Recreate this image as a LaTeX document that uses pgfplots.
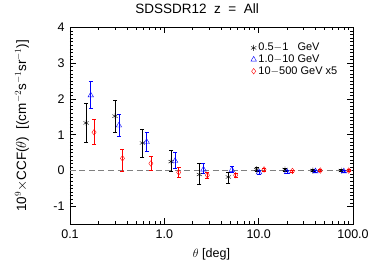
\documentclass[border=0pt]{standalone}
\usepackage{fontspec}
\setmainfont{Liberation Sans}
\usepackage{pgfplots}
\pgfplotsset{compat=1.18}
\begin{document}
\begin{tikzpicture}[x=1pt,y=1pt]
\begin{axis}[
  at={(0,0)}, anchor=south west,
  scale only axis, width=283pt, height=197pt,
  xmode=log, xmin=0.1, xmax=100,
  ymin=-1.5, ymax=4,
  xtick={0.1,1,10,100}, xticklabels={0.1,1.0,10.0,100.0},
  ytick={-1,0,1,2,3,4},
  minor y tick num=9,
  /pgf/number format/assume math mode=true,
  tick style={black, line width=0.5pt},
  major tick length=6pt, minor tick length=3pt,
  axis line style={line width=0.8pt},
  tick label style={font=\fontsize{12.5}{13}\selectfont},
  xticklabel style={yshift=-2pt},
  yticklabel style={xshift=-2pt},
  xlabel={$\theta$ [deg]},
  ylabel={10$^{9}$$\times$CCF($\theta$)\ \ [(cm$^{-2}$s$^{-1}$sr$^{-1}$)]},
  label style={font=\fontsize{12.5}{13}\selectfont},
  ylabel style={at={(axis description cs:-0.17,0.5)}, anchor=center, font=\fontsize{13.5}{14}\selectfont},
  xlabel style={at={(axis description cs:0.5,-0.152)}, anchor=center},
  title={SDSSDR12\ \ z\ \ =\ \ All},
  title style={font=\fontsize{13.5}{14}\selectfont, at={(axis description cs:0.449,1.066)}, anchor=center},
  legend style={draw=none, fill=none, at={(0.635,0.935)}, anchor=north west,
    font=\fontsize{11}{12}\selectfont, row sep=-1.5pt, inner sep=1pt,
    /tikz/column 2/.style={column sep=2.5pt}},
  legend cell align=left,
  error bars/error bar style={line width=0.6pt},
  error bars/error mark options={rotate=90, mark size=2pt, line width=0.6pt},
]
\addplot[gray, line width=0.9pt, dash pattern=on 6pt off 3.5pt, forget plot] coordinates {(0.1,0) (100,0)};

\addplot[black, only marks, mark=asterisk, mark size=3pt,
  error bars/.cd, y dir=both, y explicit]
  table[x=x, y=y, y error plus=ep, y error minus=em] {
  x y ep em
  0.148 1.33 0.54 0.54
  0.30 1.52 0.45 0.45
  0.585 0.77 0.39 0.39
  1.18 0.25 0.32 0.27
  2.35 -0.11 0.30 0.26
  4.77 -0.18 0.14 0.17
  9.5 0.03 0.05 0.05
  19.0 0.03 0.04 0.04
  37.5 0.00 0.03 0.03
  75.0 0.00 0.03 0.03
  };
\addlegendentry{0.5$-$1\ \ \ GeV}

\addplot[blue, only marks, mark=triangle, mark size=3.2pt,
  error bars/.cd, y dir=both, y explicit]
  table[x=x, y=y, y error plus=ep, y error minus=em] {
  x y ep em
  0.166 2.10 0.38 0.36
  0.33 1.26 0.32 0.31
  0.65 0.80 0.27 0.25
  1.30 0.27 0.24 0.20
  2.60 0.03 0.17 0.10
  5.2 0.02 0.10 0.06
  10.1 -0.05 0.05 0.05
  20.0 -0.04 0.04 0.04
  40.0 -0.02 0.03 0.03
  80.0 -0.02 0.03 0.03
  };
\addlegendentry{1.0$-$10 GeV}

\addplot[red, only marks, mark=diamond, mark size=2.8pt,
  error bars/.cd, y dir=both, y explicit]
  table[x=x, y=y, y error plus=ep, y error minus=em] {
  x y ep em
  0.18 1.07 0.36 0.35
  0.36 0.34 0.26 0.36
  0.72 0.20 0.21 0.20
  1.42 -0.05 0.15 0.15
  2.86 -0.13 0.08 0.08
  5.7 -0.13 0.06 0.06
  11.4 0.03 0.04 0.04
  22.8 -0.01 0.03 0.03
  45.0 0.00 0.03 0.03
  90.0 0.00 0.03 0.03
  };
\addlegendentry{10$-$500 GeV x5}
\end{axis}
\useasboundingbox (-70,-45) rectangle (304,222);
\end{tikzpicture}
\end{document}
